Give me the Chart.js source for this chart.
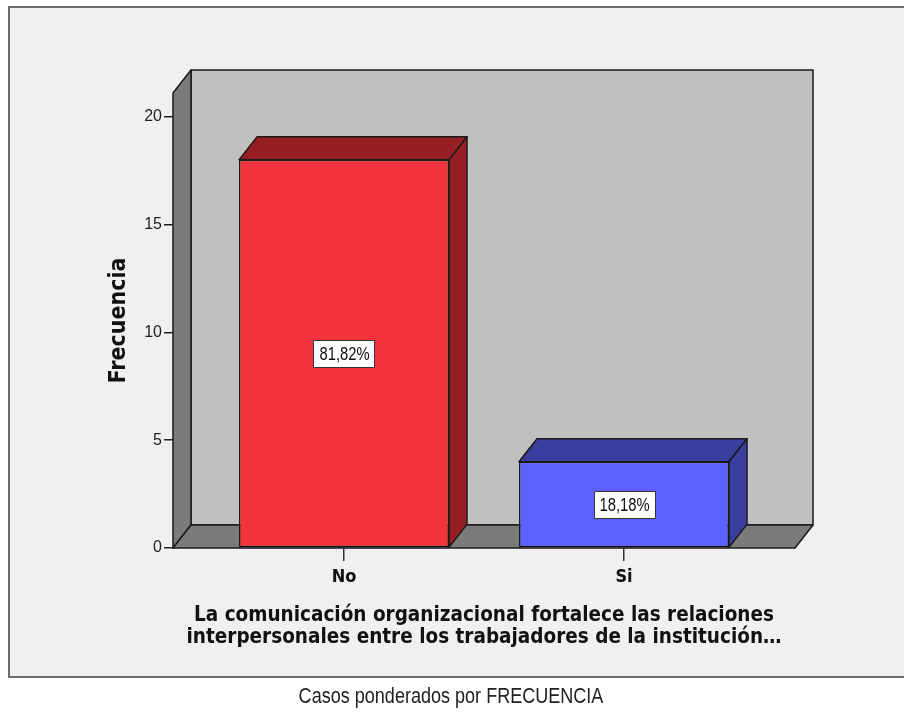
<!DOCTYPE html>
<html>
<head>
<meta charset="utf-8">
<script src="https://cdn.jsdelivr.net/npm/chart.js@4.4.1/dist/chart.umd.min.js"></script>
<style>
  html, body { margin: 0; padding: 0; background: #ffffff; }
  canvas { display: block; }
</style>
</head>
<body>
<canvas id="grafico" width="904" height="712"></canvas>
<script>
// Datos del gráfico
const categorias = ['No', 'Si'];
const frecuencias = [18, 4];
const ticksFrecuencia = [0, 5, 10, 15, 20];
const tituloEjeX = [
  'La comunicación organizacional fortalece las relaciones',
  'interpersonales entre los trabajadores de la institución…'
];
const tituloEjeY = 'Frecuencia';
const notaPie = 'Casos ponderados por FRECUENCIA';

// Estilo
const coloresFrente = ['#f0323a', '#5b60ff'];
const coloresSombra = ['#961f23', '#3a3e9e'];
const PROF_X = 18, PROF_Y = -23;   // desplazamiento de profundidad (3D)
const ESTRECHO = 0.82;             // compresión horizontal del texto estrecho
const FUENTE_SANS = "'Liberation Sans', Arial, sans-serif";
const FUENTE_TITULO = "'DejaVu Sans Condensed', 'DejaVu Sans'";

const total = frecuencias.reduce((a, b) => a + b, 0);
const porcentaje = v => (v / total * 100).toFixed(2).replace('.', ',') + '%';

function poligono(ctx, pts, relleno) {
  ctx.beginPath();
  ctx.moveTo(pts[0][0], pts[0][1]);
  for (let i = 1; i < pts.length; i++) ctx.lineTo(pts[i][0], pts[i][1]);
  ctx.closePath();
  ctx.fillStyle = relleno;
  ctx.fill();
  ctx.stroke();
}

// Texto estrecho: se comprime en horizontal alrededor de su centro
function textoEstrecho(ctx, txt, x, y) {
  ctx.save();
  ctx.translate(x, y);
  ctx.scale(ESTRECHO, 1);
  ctx.fillText(txt, 0, 0);
  ctx.restore();
}

// Panel, paredes y suelo de la caja 3D
const marco3D = {
  id: 'marco3D',
  beforeDraw(chart) {
    const { ctx, chartArea: a } = chart;
    ctx.save();
    ctx.fillStyle = '#ffffff';
    ctx.fillRect(0, 0, chart.width, chart.height);
    ctx.fillStyle = '#f0f0f0';
    ctx.fillRect(9, 7, chart.width, 670);
    ctx.strokeStyle = '#6a6a6a';
    ctx.lineWidth = 2;
    ctx.strokeRect(9, 7, chart.width, 670);

    const L = a.left, R = a.right, T = a.top, B = a.bottom;
    ctx.lineJoin = 'round';
    ctx.strokeStyle = '#1a1a1a';
    ctx.lineWidth = 1.5;
    // pared del fondo
    poligono(ctx, [[L + PROF_X, T + PROF_Y], [R + PROF_X, T + PROF_Y], [R + PROF_X, B + PROF_Y], [L + PROF_X, B + PROF_Y]], '#c0c0c0');
    // pared lateral
    poligono(ctx, [[L, T], [L + PROF_X, T + PROF_Y], [L + PROF_X, B + PROF_Y], [L, B]], '#7b7b7b');
    // suelo
    poligono(ctx, [[L, B], [L + PROF_X, B + PROF_Y], [R + PROF_X, B + PROF_Y], [R, B]], '#7b7b7b');
    ctx.restore();
  },
  afterDatasetsDraw(chart) {
    const { ctx } = chart;
    const meta = chart.getDatasetMeta(0);
    ctx.save();
    ctx.lineJoin = 'round';
    ctx.strokeStyle = '#1a1a1a';
    ctx.lineWidth = 1.5;
    meta.data.forEach((bar, i) => {
      const { x, y, base, width } = bar.getProps(['x', 'y', 'base', 'width'], true);
      const l = x - width / 2, r = x + width / 2;
      // cara superior
      poligono(ctx, [[l, y], [l + PROF_X, y + PROF_Y], [r + PROF_X, y + PROF_Y], [r, y]], coloresSombra[i]);
      // cara lateral
      poligono(ctx, [[r, y], [r + PROF_X, y + PROF_Y], [r + PROF_X, base + PROF_Y], [r, base]], coloresSombra[i]);
    });
    // etiquetas de porcentaje
    ctx.font = '18px ' + FUENTE_SANS;
    ctx.textAlign = 'center';
    ctx.textBaseline = 'middle';
    meta.data.forEach((bar, i) => {
      const { x, y, base } = bar.getProps(['x', 'y', 'base'], true);
      const cy = (y + base) / 2;
      const txt = porcentaje(frecuencias[i]);
      const w = Math.round(ctx.measureText(txt).width * ESTRECHO + 11);
      const h = 27;
      const bx = Math.round(x - w / 2), by = Math.round(cy - h / 2);
      ctx.fillStyle = '#ffffff';
      ctx.fillRect(bx, by, w, h);
      ctx.strokeStyle = '#333333';
      ctx.lineWidth = 1;
      ctx.strokeRect(bx + 0.5, by + 0.5, w, h);
      ctx.fillStyle = '#111111';
      textoEstrecho(ctx, txt, x + 0.5, cy + 1.5);
    });
    ctx.restore();
  },
  afterDraw(chart) {
    const { ctx } = chart;
    ctx.save();
    ctx.font = '22px ' + FUENTE_SANS;
    ctx.fillStyle = '#222222';
    ctx.textAlign = 'center';
    ctx.textBaseline = 'middle';
    textoEstrecho(ctx, notaPie, 451, 697);
    ctx.restore();
  }
};

new Chart(document.getElementById('grafico'), {
  type: 'bar',
  data: {
    datasets: [{
      data: frecuencias.map((v, i) => ({ x: i, y: v })),
      backgroundColor: coloresFrente,
      borderColor: '#1a1a1a',
      borderWidth: 1.5,
      borderSkipped: false,
      barPercentage: 0.75,
      categoryPercentage: 1
    }]
  },
  options: {
    responsive: false,
    devicePixelRatio: 1,
    animation: false,
    layout: { padding: { left: 100, right: 109, top: 93, bottom: 62 } },
    plugins: { legend: { display: false }, tooltip: { enabled: false } },
    scales: {
      x: {
        type: 'linear',
        min: -0.6107,
        max: 1.6107,
        offset: false,
        afterBuildTicks: s => { s.ticks = categorias.map((c, i) => ({ value: i })); },
        afterFit: s => { s.height = 102; },
        grid: { offset: false, drawOnChartArea: false, drawTicks: true, tickLength: 13, color: '#333333', lineWidth: 1.5 },
        border: { display: false },
        ticks: {
          callback: v => categorias[v],
          font: { family: FUENTE_TITULO, weight: 'bold', size: 18 },
          color: '#111111',
          padding: 6,
          maxRotation: 0,
          autoSkip: false
        },
        title: {
          display: true,
          text: tituloEjeX,
          font: { family: FUENTE_TITULO, weight: 'bold', size: 20.5, lineHeight: 22 / 20.5 },
          color: '#111111',
          padding: { top: 0, bottom: 1 }
        }
      },
      y: {
        min: 0,
        max: 21.1,
        afterBuildTicks: s => { s.ticks = ticksFrecuencia.map(v => ({ value: v })); },
        afterFit: s => { s.width = 73; },
        grid: { drawOnChartArea: false, drawTicks: true, tickLength: 9, color: '#222222', lineWidth: 1.5 },
        border: { display: false },
        ticks: { font: { family: FUENTE_SANS, size: 16 }, color: '#222222', padding: 2 },
        title: {
          display: true,
          text: tituloEjeY,
          font: { family: FUENTE_TITULO, weight: 'bold', size: 23 },
          color: '#111111',
          padding: { top: 5, bottom: 0 }
        }
      }
    }
  },
  plugins: [marco3D]
});
</script>
</body>
</html>
